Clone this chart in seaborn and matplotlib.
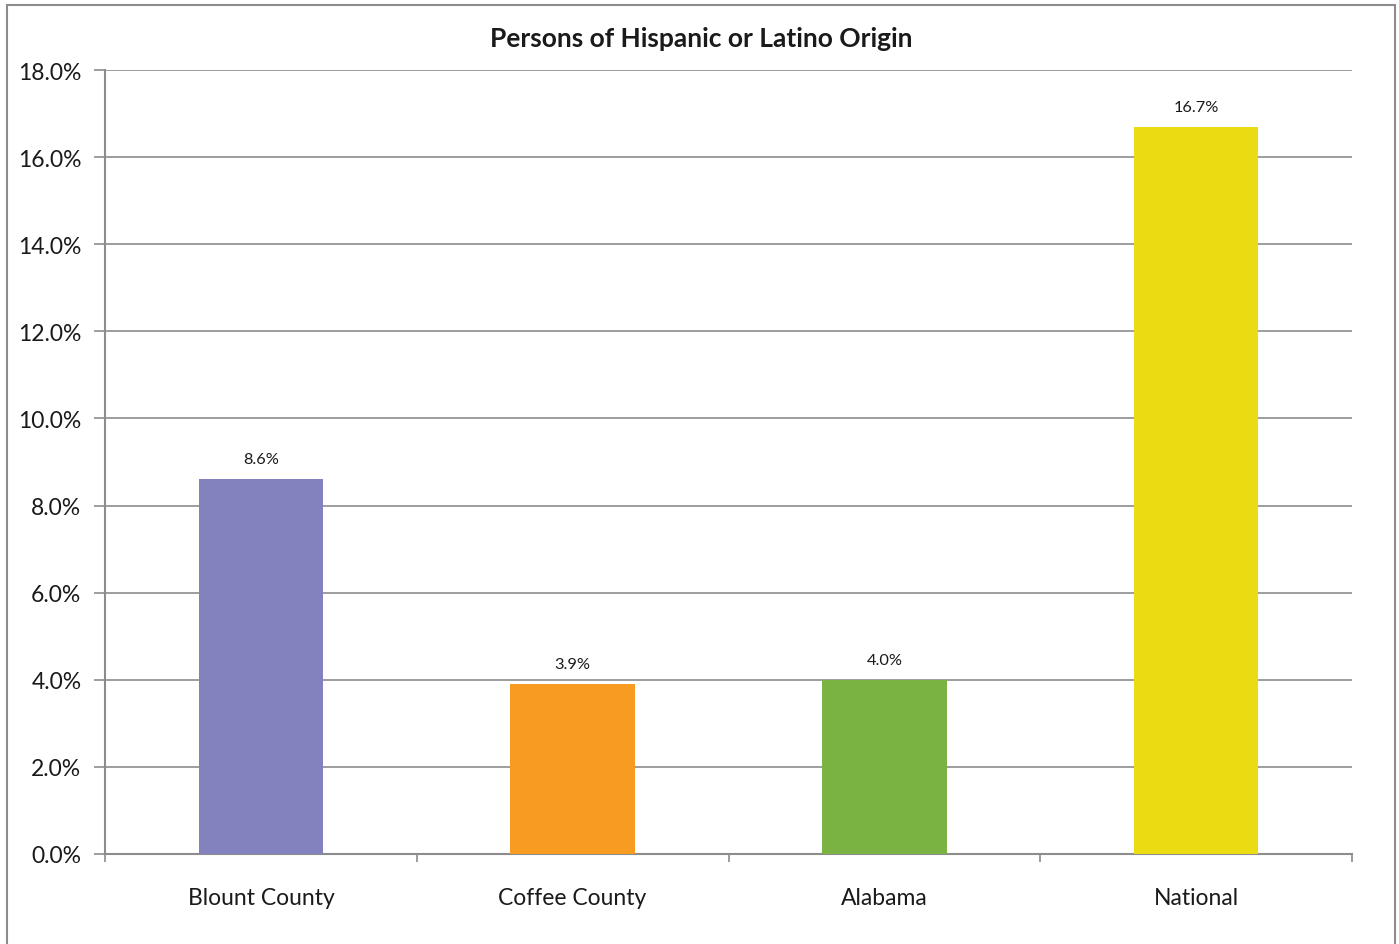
import matplotlib
matplotlib.use("Agg")
import matplotlib.pyplot as plt
from matplotlib.patches import Rectangle
from matplotlib.ticker import FuncFormatter, MultipleLocator
import seaborn as sns
import pandas as pd

categories = ["Blount County", "Coffee County", "Alabama", "National"]
values = [8.6, 3.9, 4.0, 16.7]
colors = ["#8482BE", "#F79C20", "#7AB342", "#EADB13"]
title = "Persons of Hispanic or Latino Origin"

sns.set_style("white")
plt.rcParams["font.family"] = ["Lato", "DejaVu Sans"]

df = pd.DataFrame({"category": categories, "value": values})

fig = plt.figure(figsize=(13.99, 9.45), dpi=100)
ax = fig.add_axes([105 / 1399, 90 / 945, 1247 / 1399, 784 / 945])

sns.barplot(data=df, x="category", y="value", hue="category", palette=colors,
            width=0.4, legend=False, ax=ax, saturation=1, zorder=3,
            linewidth=0, edgecolor="none")

ax.set_ylim(0, 18)
ax.set_xlim(-0.5, len(categories) - 0.5)
ax.yaxis.set_major_locator(MultipleLocator(2))
ax.yaxis.set_major_formatter(FuncFormatter(lambda v, _: f"{v:.1f}%"))
ax.grid(axis="y", color="#8C8C8C", linewidth=1.2, zorder=0)
ax.set_axisbelow(True)

for side in ["top", "right"]:
    ax.spines[side].set_visible(False)
for side in ["left", "bottom"]:
    ax.spines[side].set_color("#8C8C8C")
    ax.spines[side].set_linewidth(1.5)

ax.set_xlabel("")
ax.set_ylabel("")
ax.tick_params(axis="y", which="major", length=8, width=1.2, color="#8C8C8C",
               labelsize=16.5, labelcolor="#1a1a1a", pad=9, left=True)
ax.tick_params(axis="x", which="major", bottom=False, labelsize=16.5,
               labelcolor="#1a1a1a", pad=20)
# category boundary ticks on the x axis
ax.set_xticks([i - 0.5 for i in range(len(categories) + 1)], minor=True)
ax.tick_params(axis="x", which="minor", bottom=True, length=6, width=1.2,
               color="#8C8C8C")

for i, v in enumerate(values):
    ax.text(i, v + 0.3, f"{v:.1f}%", ha="center", va="bottom",
            fontsize=11.8, color="#1a1a1a")

fig.text(701 / 1399, 1 - 39 / 945, title, ha="center", va="center",
         fontsize=19, fontweight="bold", color="#1a1a1a")

fig.patches.append(Rectangle((7 / 1399, -0.01), 1388 / 1399, 1 - 6 / 945 + 0.01,
                             transform=fig.transFigure, fill=False,
                             edgecolor="#8C8C8C", linewidth=1.5))

fig.savefig("out.png", dpi=100)
